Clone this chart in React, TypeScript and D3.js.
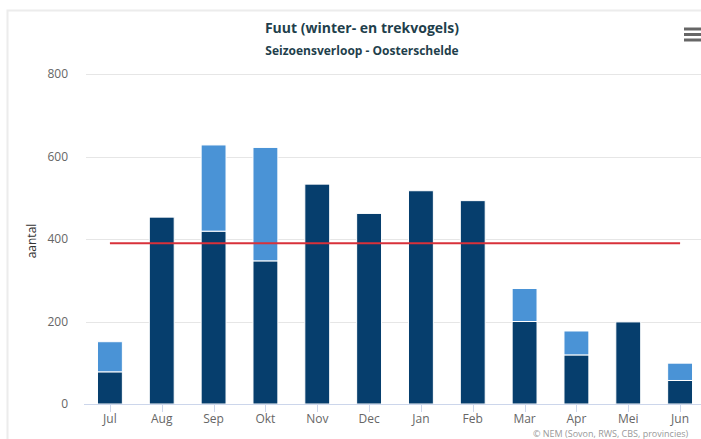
import { useRef, useEffect } from "react";
import * as d3 from "d3";

const months = ["Jul", "Aug", "Sep", "Okt", "Nov", "Dec", "Jan", "Feb", "Mar", "Apr", "Mei", "Jun"];
// dark segment (bottom) and light segment (on top)
const darkValues = [78, 453, 419, 347, 533, 462, 517, 493, 200, 119, 199, 57];
const lightValues = [73, 0, 209, 275, 0, 0, 0, 0, 80, 58, 0, 42];
const referenceValue = 390;
const yTicks = [0, 200, 400, 600, 800];

const width = 701;
const height = 439;
const margin = { top: 74, right: -5, bottom: 35, left: 84 };

export default function App() {
  const svgRef = useRef<SVGSVGElement>(null);

  useEffect(() => {
    if (!svgRef.current) return;
    const svg = d3.select(svgRef.current);
    svg.selectAll("*").remove();

    const innerW = width - margin.left - margin.right;
    const innerH = height - margin.top - margin.bottom;
    const font = "'Open Sans', 'Noto Sans', sans-serif";

    svg.append("rect").attr("width", width).attr("height", height).attr("fill", "#fff");

    // frame
    svg.append("path")
      .attr("d", `M7.5,${height} V10.5 H${width}`)
      .attr("fill", "none")
      .attr("stroke", "#ececec")
      .attr("stroke-width", 2);

    const x = d3.scaleBand<string>()
      .domain(months)
      .range([0, innerW])
      .paddingInner(0.52)
      .paddingOuter(0.26);

    const y = d3.scaleLinear().domain([0, 800]).range([innerH, 0]);

    const g = svg.append("g").attr("transform", `translate(${margin.left},${margin.top})`);

    // grid
    g.append("g")
      .selectAll("line")
      .data(yTicks.filter(d => d > 0))
      .join("line")
      .attr("x1", 2)
      .attr("x2", innerW)
      .attr("y1", d => Math.round(y(d)) + 0.5)
      .attr("y2", d => Math.round(y(d)) + 0.5)
      .attr("stroke", "#e6e6e6");

    // y labels
    g.append("g")
      .selectAll("text")
      .data(yTicks)
      .join("text")
      .attr("x", -16)
      .attr("y", d => y(d) + 4)
      .attr("text-anchor", "end")
      .attr("fill", "#666")
      .attr("font-family", font)
      .attr("font-size", "12px")
      .text(d => d);

    // bars
    const bw = x.bandwidth();
    g.append("g")
      .selectAll("rect")
      .data(months)
      .join("rect")
      .attr("x", d => x(d)!)
      .attr("width", bw)
      .attr("y", (d, i) => y(darkValues[i]))
      .attr("height", (d, i) => y(0) - y(darkValues[i]))
      .attr("fill", "#063e6d")
      .attr("stroke", "#fff")
      .attr("stroke-width", 1);

    g.append("g")
      .selectAll("rect")
      .data(months.filter((d, i) => lightValues[i] > 0))
      .join("rect")
      .attr("x", d => x(d)!)
      .attr("width", bw)
      .attr("y", d => {
        const i = months.indexOf(d);
        return y(darkValues[i] + lightValues[i]);
      })
      .attr("height", d => {
        const i = months.indexOf(d);
        return y(darkValues[i]) - y(darkValues[i] + lightValues[i]);
      })
      .attr("fill", "#4a93d6")
      .attr("stroke", "#fff")
      .attr("stroke-width", 1);

    // x axis
    g.append("line")
      .attr("x1", 0)
      .attr("x2", innerW)
      .attr("y1", innerH + 0.5)
      .attr("y2", innerH + 0.5)
      .attr("stroke", "#ccd6eb");

    g.append("g")
      .selectAll("line")
      .data(months)
      .join("line")
      .attr("x1", d => Math.round(x(d)! + bw / 2) + 0.5)
      .attr("x2", d => Math.round(x(d)! + bw / 2) + 0.5)
      .attr("y1", innerH)
      .attr("y2", innerH + 8)
      .attr("stroke", "#ccd6eb");

    g.append("g")
      .selectAll("text")
      .data(months)
      .join("text")
      .attr("x", d => x(d)! + bw / 2)
      .attr("y", innerH + 19)
      .attr("text-anchor", "middle")
      .attr("fill", "#666")
      .attr("font-family", font)
      .attr("font-size", "12px")
      .text(d => d);

    // reference line
    g.append("line")
      .attr("x1", x("Jul")! + bw / 2)
      .attr("x2", x("Jun")! + bw / 2)
      .attr("y1", y(referenceValue))
      .attr("y2", y(referenceValue))
      .attr("stroke", "#d8313a")
      .attr("stroke-width", 2);

    // y axis title
    svg.append("text")
      .attr("transform", `translate(36,241) rotate(-90)`)
      .attr("text-anchor", "middle")
      .attr("fill", "#333")
      .attr("font-family", font)
      .attr("font-size", "12px")
      .text("aantal");

    // titles
    svg.append("text")
      .attr("x", 362)
      .attr("y", 33)
      .attr("text-anchor", "middle")
      .attr("fill", "#1f3f4c")
      .attr("font-family", font)
      .attr("font-weight", "bold")
      .attr("font-size", "14px")
      .text("Fuut (winter- en trekvogels)");

    svg.append("text")
      .attr("x", 362)
      .attr("y", 55)
      .attr("text-anchor", "middle")
      .attr("fill", "#1f3f4c")
      .attr("font-family", font)
      .attr("font-weight", "bold")
      .attr("font-size", "12px")
      .text("Seizoensverloop - Oosterschelde");

    // credits
    svg.append("text")
      .attr("x", 533)
      .attr("y", 437)
      .attr("fill", "#999")
      .attr("font-family", font)
      .attr("font-size", "9px")
      .text("© NEM (Sovon, RWS, CBS, provincies)");

    // menu icon
    svg.append("g")
      .selectAll("line")
      .data([29, 34.5, 40])
      .join("line")
      .attr("x1", 684)
      .attr("x2", 702)
      .attr("y1", d => d)
      .attr("y2", d => d)
      .attr("stroke", "#666")
      .attr("stroke-width", 3);
  }, []);

  return (
    <div style={{ position: "fixed", left: 0, top: 0, width, height, overflow: "hidden" }}>
      <svg ref={svgRef} width={width} height={height} style={{ display: "block" }} />
    </div>
  );
}
